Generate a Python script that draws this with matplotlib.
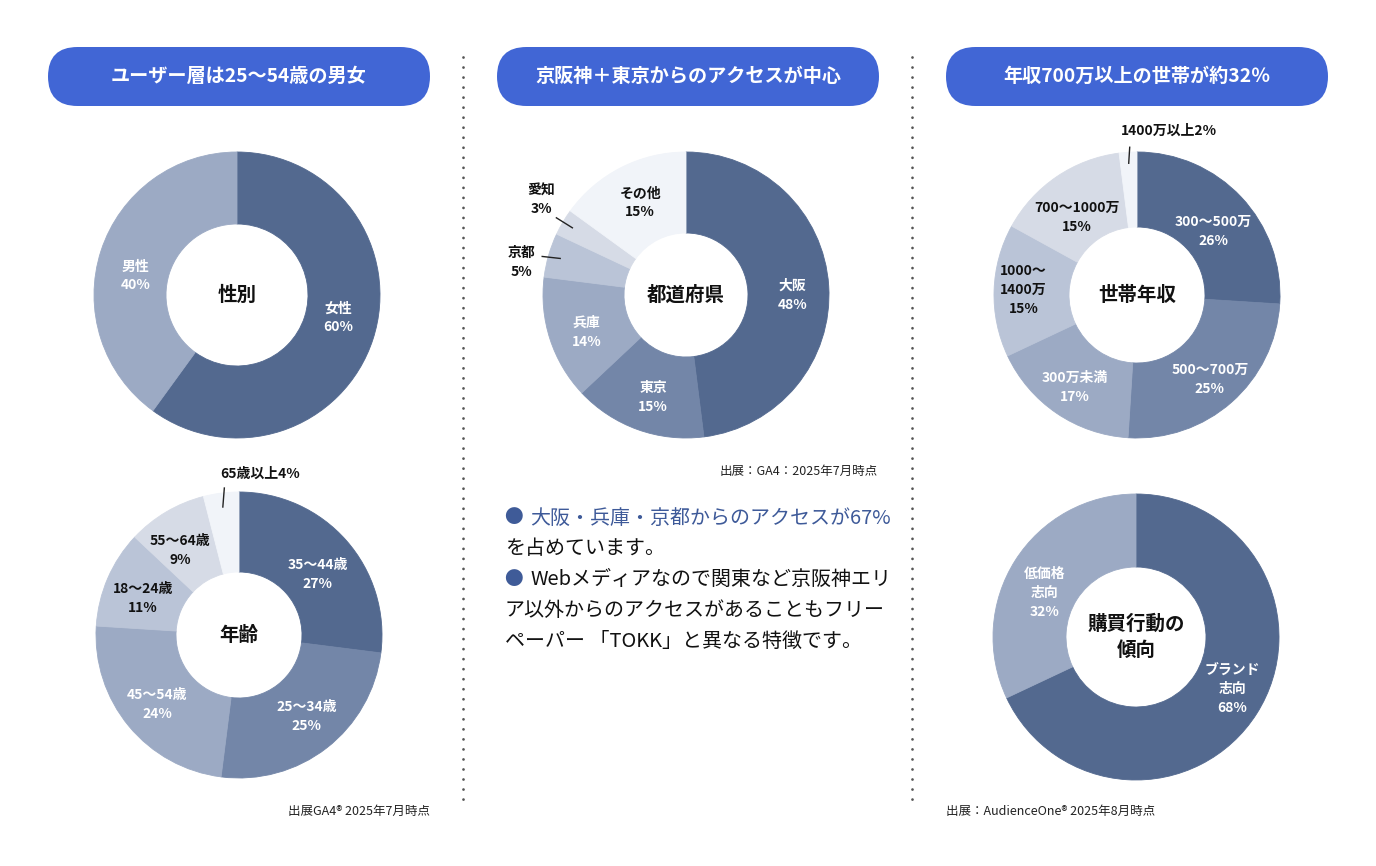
import numpy as np
import matplotlib
matplotlib.use('Agg')
import matplotlib.pyplot as plt
from matplotlib.patches import FancyBboxPatch

plt.rcParams['font.family'] = ['Noto Sans CJK JP', 'DejaVu Sans']

W, H = 1376, 866

# ---- data ----
titles = ['ユーザー層は25〜54歳の男女', '京阪神＋東京からのアクセスが中心', '年収700万以上の世帯が約32％']

gender_labels = ['女性', '男性']
gender_values = [60, 40]

age_labels = ['35〜44歳', '25〜34歳', '45〜54歳', '18〜24歳', '55〜64歳', '65歳以上']
age_values = [27, 25, 24, 11, 9, 4]

pref_labels = ['大阪', '東京', '兵庫', '京都', '愛知', 'その他']
pref_values = [48, 15, 14, 5, 3, 15]

income_labels = ['300〜500万', '500〜700万', '300万未満', '1000〜\n1400万', '700〜1000万', '1400万以上']
income_values = [26, 25, 17, 15, 15, 2]

buy_labels = ['ブランド\n志向', '低価格\n志向']
buy_values = [68, 32]

shades = ['#53698f', '#7386a8', '#9caac4', '#bac4d7', '#d6dbe6', '#f1f4f9']
PILL = '#4166d5'
BLUE_TXT = '#3e5a99'


def Y(py):
    return H - py


fig = plt.figure(figsize=(W / 100, H / 100), dpi=100)
ax = fig.add_axes([0, 0, 1, 1])


def donut(values, labels, cx, cy, r_out, r_in, colors, txt_colors, center_text,
          outside=(), nudge=None, fs=10):
    wedges, _ = ax.pie(values, colors=colors, startangle=90, counterclock=False,
                       center=(cx, Y(cy)), radius=r_out,
                       wedgeprops=dict(width=r_out - r_in, linewidth=0.6))
    for w in wedges:
        w.set_edgecolor(w.get_facecolor())
    if nudge is None:
        nudge = [(0, 0)] * len(values)
    r_lab = (r_out + r_in) / 2 + 3
    for i, w in enumerate(wedges):
        if i in outside:
            continue
        a = np.deg2rad((w.theta1 + w.theta2) / 2)
        dx, dy = nudge[i]
        ax.text(cx + r_lab * np.cos(a) + dx, Y(cy) + r_lab * np.sin(a) - dy,
                f'{labels[i]}\n{values[i]}%', ha='center', va='center',
                fontsize=fs, fontweight='bold', color=txt_colors[i], linespacing=1.45)
    ax.text(cx, Y(cy), center_text, ha='center', va='center', fontsize=14,
            fontweight='bold', color='#111111', linespacing=1.5)
    return wedges


def mid_point(w, cx, cy, r):
    a = np.deg2rad((w.theta1 + w.theta2) / 2)
    return cx + r * np.cos(a), Y(cy) + r * np.sin(a)


# ---- title pills ----
for i, t in enumerate(titles):
    x0 = 48 + i * 449
    ax.add_patch(FancyBboxPatch((x0, Y(106)), 382, 59,
                                boxstyle='round,pad=0,rounding_size=29.5',
                                facecolor=PILL, edgecolor='none'))
    ax.text(x0 + 191, Y(76.5), t, ha='center', va='center', fontsize=13.8,
            fontweight='bold', color='white')

# ---- dotted separators ----
for x in [463, 912]:
    ax.plot([x, x], [Y(57), Y(808)], color='#555555', lw=2,
            linestyle=(0, (0.01, 3.6)), dash_capstyle='round')

# ---- gender ----
donut(gender_values, gender_labels, 237, 295, 143, 71,
      [shades[0], shades[2]], ['white', 'white'], '性別',
      nudge=[(-3, -11), (3, 15)])

# ---- age ----
w_age = donut(age_values, age_labels, 239, 635, 143, 63,
              shades, ['white', 'white', 'white', '#111111', '#111111', '#111111'],
              '年齢', outside=(5,),
              nudge=[(-1, 10), (3, -2), (0, 2), (1, 6), (-5, 7), (0, 0)])
sx, sy = mid_point(w_age[5], 239, 635, 129)
ax.plot([sx, sx + 1.5], [sy, sy + 19], color='#222222', lw=1)
ax.text(sx - 3, sy + 26, f'{age_labels[5]}{age_values[5]}%', ha='left', va='bottom',
        fontsize=10, fontweight='bold', color='#111111')

# ---- prefecture ----
w_pref = donut(pref_values, pref_labels, 686, 295, 143, 62,
               shades, ['white', 'white', 'white', '#111111', '#111111', '#111111'],
               '都道府県', outside=(3, 4),
               nudge=[(1, 7), (3, 3), (1, 5), (0, 0), (0, 0), (2, 2)])
sx, sy = mid_point(w_pref[3], 686, 295, 131)
ax.plot([sx, sx - 18], [sy, sy + 2], color='#222222', lw=1)
ax.text(sx - 39, sy - 4, f'{pref_labels[3]}\n{pref_values[3]}%', ha='center', va='center',
        fontsize=10, fontweight='bold', color='#111111', linespacing=1.45)
sx, sy = mid_point(w_pref[4], 686, 295, 132)
ax.plot([sx, sx - 16], [sy, sy + 10], color='#222222', lw=1)
ax.text(sx - 31, sy + 28, f'{pref_labels[4]}\n{pref_values[4]}%', ha='center', va='center',
        fontsize=10, fontweight='bold', color='#111111', linespacing=1.45)
ax.text(878, Y(471), '出展：GA4：2025年7月時点', ha='right', va='center',
        fontsize=9, color='#222222')

# ---- income ----
w_inc = donut(income_values, income_labels, 1137, 295, 143, 68,
              shades, ['white', 'white', 'white', '#111111', '#111111', '#111111'],
              '世帯年収', outside=(5,),
              nudge=[(-3, 11), (1, 3), (-1, 3), (-5, -2), (1, 12), (0, 0)])
sx, sy = mid_point(w_inc[5], 1137, 295, 132)
ax.plot([sx, sx + 1], [sy, sy + 16], color='#222222', lw=1)
ax.text(sx - 8, sy + 25, f'{income_labels[5]}{income_values[5]}%', ha='left', va='bottom',
        fontsize=10, fontweight='bold', color='#111111')

# ---- buying behaviour ----
donut(buy_values, buy_labels, 1136, 637, 143, 70,
      [shades[0], shades[2]], ['white', 'white'], '購買行動の\n傾向',
      nudge=[(4, -7), (1, 15)])

# ---- sources ----
ax.text(430, Y(811), '出展GA4® 2025年7月時点', ha='right', va='center',
        fontsize=9, color='#222222')
ax.text(946, Y(811), '出展：AudienceOne® 2025年8月時点', ha='left', va='center',
        fontsize=9, color='#222222')

# ---- comment text ----
lines = [
    (True, '大阪・兵庫・京都からのアクセスが67%', BLUE_TXT),
    (False, 'を占めています。', '#111111'),
    (True, 'Webメディアなので関東など京阪神エリ', '#111111'),
    (False, 'ア以外からのアクセスがあることもフリー', '#111111'),
    (False, 'ペーパー 「TOKK」と異なる特徴です。', '#111111'),
]
for k, (bullet, txt, col) in enumerate(lines):
    yy = Y(518 + k * 30.8)
    if bullet:
        ax.text(504, yy, '●', ha='left', va='center', fontsize=13.5, color='#3f5b98')
        ax.text(530, yy, txt, ha='left', va='center', fontsize=14.4, color=col)
    else:
        ax.text(505, yy, txt, ha='left', va='center', fontsize=14.4, color=col)

ax.set_xlim(0, W)
ax.set_ylim(0, H)
ax.set_aspect('auto')
ax.axis('off')

fig.savefig('out.png', dpi=100, facecolor='white')
